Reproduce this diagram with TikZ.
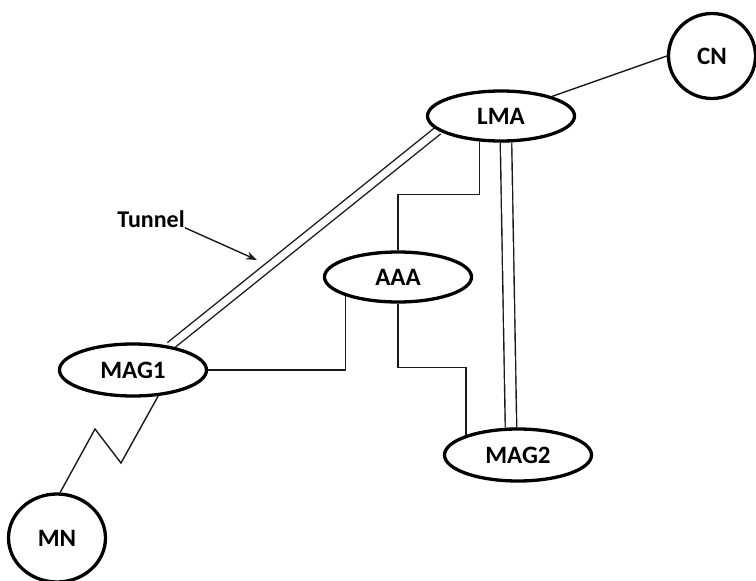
\documentclass[tikz,border=0pt]{standalone}
\usepackage{fontspec}
\setmainfont{Carlito}
\usetikzlibrary{shapes.geometric,arrows.meta,calc,backgrounds}

\tikzset{
  entity/.style={draw=black, line width=3.3pt, ellipse, inner sep=0pt,
    minimum width=147pt, minimum height=50pt,
    font=\fontsize{25}{28}\selectfont\bfseries},
  endnode/.style={draw=black, line width=3.3pt, ellipse, inner sep=0pt,
    font=\fontsize{25}{28}\selectfont\bfseries},
  link/.style={draw=black!90, line width=1.4pt},
  tunnelpair/.style={draw=black!90, line width=1.4pt, double=white, double distance=7pt},
  label/.style={inner sep=0pt, font=\fontsize{24}{27}\selectfont\bfseries}
}

\begin{document}
\begin{tikzpicture}[x=1pt, y=-1pt]
  \useasboundingbox (0,0) rectangle (756,581);

  % network entities
  \node[endnode, minimum width=87pt, minimum height=85pt] (cn) at (712,56) {CN};
  \node[entity] (lma) at (501,116) {LMA};
  \node[entity] (aaa) at (398,277) {AAA};
  \node[entity, minimum height=52pt] (mag1) at (133,370) {MAG1};
  \node[entity, minimum height=52pt] (mag2) at (518,455) {MAG2};
  \node[endnode, minimum width=97pt, minimum height=88pt] (mn) at (57,538) {MN};

  % tunnel annotation
  \node[label] (tlabel) at (151,219) {Tunnel};
  \coordinate (tip) at (257,260);

  \begin{scope}[on background layer]
    % correspondent node link
    \draw[link] (lma.21) -- (cn.180);
    % tunnels between the LMA and the access gateways
    \draw[tunnelpair] (mag1.33) -- (lma.193);
    \draw[tunnelpair, double distance=10pt] ([xshift=5pt]lma.south) -- ([xshift=-7pt]mag2.north);
    % AAA signalling paths
    \draw[link] (lma.230) -- ++(0,53) -| (aaa.north);
    \draw[link] (aaa.200) |- (mag1.east);
    \draw[link] (aaa.south) -- ++(0,64) -| (mag2.159);
    % wireless hop to the mobile node
    \draw[link] (mag1.-46) -- (121,463) -- (95,429) -- (mn.86);
    % label arrow
    \draw[link, -{Stealth[length=11pt,width=8pt]}] (tlabel.south east) -- (tip);
  \end{scope}
\end{tikzpicture}
\end{document}
